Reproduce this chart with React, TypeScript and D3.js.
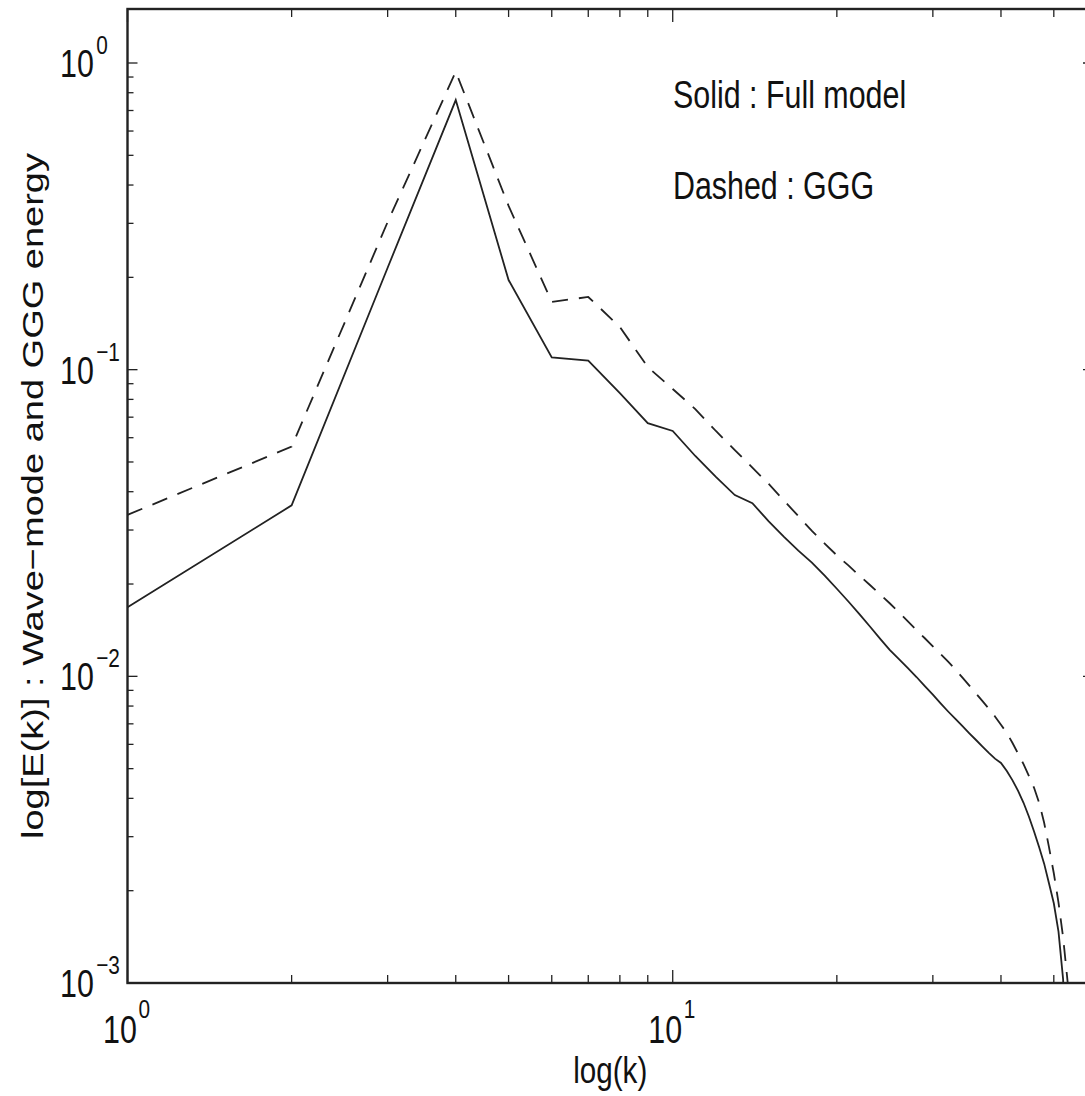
import React from "react";
import * as d3 from "d3";

// wavenumbers k
const wavenumbers = [
  1, 2, 3, 4, 5, 6, 7, 8, 9, 10, 11, 12, 13, 14, 15, 16, 17, 18, 19, 20, 21, 22, 23, 24, 25, 26, 27,
  28, 29, 30, 31, 32, 33, 34, 35, 36, 37, 38, 39, 40, 41, 42, 43, 44, 45, 46, 47, 48, 49, 50, 51, 52,
  53, 54,
];

// Solid : Full model
const fullModel = [
  0.0168, 0.0361, 0.215, 0.757, 0.196, 0.1097, 0.107, 0.0838, 0.0669, 0.0631, 0.0523, 0.0447,
  0.039, 0.0367, 0.032, 0.0285, 0.0257, 0.0235, 0.0213, 0.0193, 0.01754, 0.01595, 0.01454,
  0.01328, 0.0122, 0.01138, 0.01064, 0.00995, 0.00929, 0.00871, 0.00816, 0.00768, 0.00726,
  0.00688, 0.00652, 0.0062, 0.0059, 0.00563, 0.00539, 0.00522, 0.00491, 0.00458, 0.00423,
  0.00387, 0.00349, 0.00312, 0.00277, 0.00245, 0.00211, 0.00182, 0.00147, 0.00103, 0.0004,
];

// Dashed : GGG
const gggModel = [
  0.0336, 0.0561, 0.303, 0.937, 0.342, 0.1663, 0.1726, 0.1378, 0.102, 0.0865, 0.0744, 0.0631,
  0.0547, 0.0479, 0.0424, 0.0374, 0.0333, 0.0298, 0.0271, 0.0248, 0.023, 0.0213, 0.01985,
  0.01851, 0.01731, 0.01615, 0.01511, 0.01416, 0.01331, 0.01253, 0.01182, 0.01117, 0.01053,
  0.0099, 0.00933, 0.00879, 0.0083, 0.00785, 0.0074, 0.00695, 0.00654, 0.00606, 0.0056,
  0.00517, 0.00474, 0.00433, 0.00387, 0.00333, 0.00277, 0.00228, 0.00183, 0.00141, 0.00101,
  0.0004,
];

const legendLines = ["Solid : Full model", "Dashed : GGG"];
const xLabel = "log(k)";
const yLabel = "log[E(k)] : Wave\u2212mode and GGG energy";

const W = 1085;
const H = 1096;
const left = 127.5;
const right = 1093;
const top = 9;
const bottom = 983;
const FONT = "'Liberation Sans', Arial, Helvetica, sans-serif";
const SX = 0.8; // text looks horizontally squeezed
const INK = "#222";

const isMajor = (t: number) => Math.abs(Math.log10(t) - Math.round(Math.log10(t))) < 1e-9;

const App = () => {
  const x = d3.scaleLog().domain([1, 59]).range([left, right]);
  const y = d3.scaleLog().domain([1e-3, 1.5]).range([bottom, top]);

  const line = d3
    .line<[number, number]>()
    .x((d) => x(d[0]))
    .y((d) => y(d[1]));

  const solid = fullModel.map((v, i) => [wavenumbers[i], v] as [number, number]);
  const dashed = gggModel.map((v, i) => [wavenumbers[i], v] as [number, number]);

  const xTicks = x.ticks();
  const yTicks = y.ticks();

  return (
    <svg
      width={W}
      height={H}
      style={{ position: "absolute", left: 0, top: 0, background: "#fff" }}
      fontFamily={FONT}
    >
      <defs>
        <clipPath id="plot">
          <rect x={left} y={top} width={right - left} height={bottom - top} />
        </clipPath>
      </defs>

      {/* ticks on all four sides, pointing inward */}
      <g stroke={INK} strokeWidth={1.3}>
        {xTicks.map((t, i) => {
          const len = isMajor(t) ? 13 : 8;
          return (
            <g key={"xt" + i}>
              <line x1={x(t)} x2={x(t)} y1={bottom} y2={bottom - len} />
              <line x1={x(t)} x2={x(t)} y1={top} y2={top + len} />
            </g>
          );
        })}
        {yTicks.map((t, i) => {
          const len = isMajor(t) ? 10 : 6;
          return (
            <g key={"yt" + i}>
              <line x1={left} x2={left + len} y1={y(t)} y2={y(t)} />
              <line x1={right} x2={right - len} y1={y(t)} y2={y(t)} />
            </g>
          );
        })}
      </g>

      {/* curves */}
      <g clipPath="url(#plot)" fill="none" stroke={INK} strokeWidth={1.8}>
        <path d={line(solid) || ""} />
        <path d={line(dashed) || ""} strokeDasharray="16 11" />
      </g>

      {/* frame */}
      <rect
        x={left}
        y={top}
        width={right - left}
        height={bottom - top}
        fill="none"
        stroke={INK}
        strokeWidth={2.4}
      />

      {/* y tick labels */}
      {yTicks.filter(isMajor).map((t, i) => (
        <text
          key={"yl" + i}
          transform={`translate(60,${y(t) + 14}) scale(${SX},1)`}
          fontSize={38}
          fill="#111"
        >
          10
          <tspan fontSize={26} dy={-23} dx={3}>
            {String(Math.round(Math.log10(t))).replace("-", "\u2212")}
          </tspan>
        </text>
      ))}

      {/* x tick labels */}
      {xTicks.filter(isMajor).map((t, i) => (
        <text
          key={"xl" + i}
          transform={`translate(${x(t) - 1},${bottom + 60}) scale(${SX},1)`}
          fontSize={38}
          textAnchor="middle"
          fill="#111"
        >
          10
          <tspan fontSize={26} dy={-25} dx={2}>
            {String(Math.round(Math.log10(t)))}
          </tspan>
        </text>
      ))}

      {/* axis labels */}
      <text
        transform={`translate(${(left + right) / 2},${1083}) scale(${SX},1)`}
        fontSize={37}
        textAnchor="middle"
        fill="#111"
      >
        {xLabel}
      </text>
      <text
        transform={`translate(43,${(top + bottom) / 2}) scale(${SX},1) rotate(-90)`}
        fontSize={38}
        textAnchor="middle"
        fill="#111"
      >
        {yLabel}
      </text>

      {/* annotation */}
      {legendLines.map((s, i) => (
        <text
          key={"lg" + i}
          transform={`translate(673,${108 + i * 91}) scale(${SX},1)`}
          fontSize={38}
          fill="#111"
        >
          {s}
        </text>
      ))}
    </svg>
  );
};

export default App;
